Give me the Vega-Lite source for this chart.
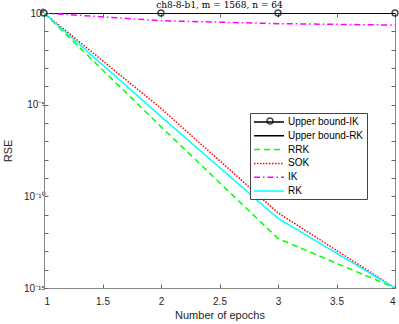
{
  "$schema": "https://vega.github.io/schema/vega-lite/v6.json",
  "width": 351,
  "height": 275,
  "autosize": {"type": "none"},
  "padding": {"left": 44, "top": 13, "right": 4, "bottom": 36},
  "background": "white",
  "title": {"text": "ch8-8-b1, m = 1568, n = 64", "font": "DejaVu Serif", "fontSize": 9, "fontWeight": "normal", "color": "#000", "offset": 2, "dy": 5, "anchor": "middle"},
  "config": {
    "view": {"stroke": "#888", "strokeWidth": 1},
    "font": "Liberation Sans",
    "axis": {"grid": false, "domainColor": "#888", "tickColor": "#666", "labelColor": "#262626", "titleColor": "#262626", "labelFont": "Liberation Sans", "titleFont": "Liberation Sans", "labelFontSize": 10, "titleFontSize": 11, "titleFontWeight": "normal", "tickSize": -4}
  },
  "data": {"values": [
    {"epoch": 1, "series": "Upper bound-IK", "rse": 1},
    {"epoch": 2, "series": "Upper bound-IK", "rse": 1},
    {"epoch": 3, "series": "Upper bound-IK", "rse": 1},
    {"epoch": 4, "series": "Upper bound-IK", "rse": 1},
    {"epoch": 1, "series": "Upper bound-RK", "rse": 1},
    {"epoch": 2, "series": "Upper bound-RK", "rse": 1},
    {"epoch": 3, "series": "Upper bound-RK", "rse": 1},
    {"epoch": 4, "series": "Upper bound-RK", "rse": 1},
    {"epoch": 1, "series": "RRK", "rse": 1},
    {"epoch": 2, "series": "RRK", "rse": 6.3e-7},
    {"epoch": 3, "series": "RRK", "rse": 5e-13},
    {"epoch": 4, "series": "RRK", "rse": 1e-15},
    {"epoch": 1, "series": "SOK", "rse": 1},
    {"epoch": 2, "series": "SOK", "rse": 6.3e-6},
    {"epoch": 3, "series": "SOK", "rse": 1.26e-11},
    {"epoch": 4, "series": "SOK", "rse": 1e-15},
    {"epoch": 1, "series": "IK", "rse": 1},
    {"epoch": 2, "series": "IK", "rse": 0.38},
    {"epoch": 3, "series": "IK", "rse": 0.263},
    {"epoch": 4, "series": "IK", "rse": 0.22},
    {"epoch": 1, "series": "RK", "rse": 1},
    {"epoch": 2, "series": "RK", "rse": 2.24e-6},
    {"epoch": 3, "series": "RK", "rse": 6.3e-12},
    {"epoch": 4, "series": "RK", "rse": 1e-15}
  ]},
  "resolve": {"axis": {"x": "independent", "y": "independent"}},
  "layer": [
    {
      "mark": {"type": "line", "clip": true},
      "encoding": {
        "x": {"field": "epoch", "type": "quantitative", "scale": {"domain": [1, 4], "nice": false, "zero": false},
              "axis": {"values": [1, 1.5, 2, 2.5, 3, 3.5, 4], "format": ".1~f", "title": "Number of epochs", "titlePadding": 3, "labelPadding": 12}},
        "y": {"field": "rse", "type": "quantitative", "scale": {"type": "log", "domain": [1e-15, 1], "nice": false},
              "axis": {"values": [1, 1e-1, 1e-2, 1e-3, 1e-4, 1e-5, 1e-6, 1e-7, 1e-8, 1e-9, 1e-10, 1e-11, 1e-12, 1e-13, 1e-14, 1e-15],
                       "labelExpr": "abs(log(datum.value)/LN10) < 0.01 ? '10⁰' : abs(log(datum.value)/LN10 + 5) < 0.01 ? '10⁻⁵' : abs(log(datum.value)/LN10 + 10) < 0.01 ? '10⁻¹⁰' : abs(log(datum.value)/LN10 + 15) < 0.01 ? '10⁻¹⁵' : ''",
                       "title": "RSE", "titlePadding": 10, "labelPadding": 3}},
        "color": {"field": "series", "type": "nominal",
                  "scale": {"domain": ["Upper bound-IK", "Upper bound-RK", "RRK", "SOK", "IK", "RK"], "range": ["#000000", "#000000", "#00FF00", "#FF0000", "#FF00FF", "#00FFFF"]},
                  "legend": {"title": null, "orient": "none", "legendX": 206, "legendY": 100,
                             "symbolType": "M-1,0H5", "symbolSize": 100, "symbolStrokeWidth": 1.5,
                             "labelFont": "Liberation Sans", "labelFontSize": 10, "labelColor": "#000", "labelOffset": 23,
                             "rowPadding": 2.8, "padding": 3, "strokeColor": "#444", "fillColor": "white", "cornerRadius": 0}},
        "strokeDash": {"field": "series", "type": "nominal",
                       "scale": {"domain": ["Upper bound-IK", "Upper bound-RK", "RRK", "SOK", "IK", "RK"], "range": [[1, 0], [1, 0], [6, 4], [1.5, 1.5], [6, 3, 1.5, 3], [1, 0]]}},
        "strokeWidth": {"field": "series", "type": "nominal", "legend": null,
                        "scale": {"domain": ["Upper bound-IK", "Upper bound-RK", "RRK", "SOK", "IK", "RK"], "range": [1.5, 1.5, 1.5, 1.5, 1.5, 2]}}
      }
    },
    {
      "transform": [{"filter": "datum.series == 'Upper bound-IK'"}],
      "mark": {"type": "point", "filled": false, "color": "#000", "strokeWidth": 1.5, "size": 35, "clip": false},
      "encoding": {
        "x": {"field": "epoch", "type": "quantitative", "scale": {"domain": [1, 4], "nice": false, "zero": false},
              "axis": {"orient": "top", "values": [1, 1.5, 2, 2.5, 3, 3.5, 4], "labels": false, "title": null, "domain": false}},
        "y": {"field": "rse", "type": "quantitative", "scale": {"type": "log", "domain": [1e-15, 1], "nice": false},
              "axis": {"orient": "right", "values": [1, 1e-1, 1e-2, 1e-3, 1e-4, 1e-5, 1e-6, 1e-7, 1e-8, 1e-9, 1e-10, 1e-11, 1e-12, 1e-13, 1e-14, 1e-15], "labels": false, "title": null, "domain": false}},
        "shape": {"field": "series", "type": "nominal", "scale": {"domain": ["Upper bound-IK"], "range": ["circle"]},
                  "legend": {"title": null, "orient": "none", "legendX": 218, "legendY": 100, "padding": 3,
                             "symbolSize": 35, "symbolStrokeColor": "#000", "symbolFillColor": "transparent", "symbolStrokeWidth": 1.5,
                             "labelFontSize": 10, "labelExpr": "''", "strokeColor": null, "fillColor": null}}
      }
    }
  ]
}
